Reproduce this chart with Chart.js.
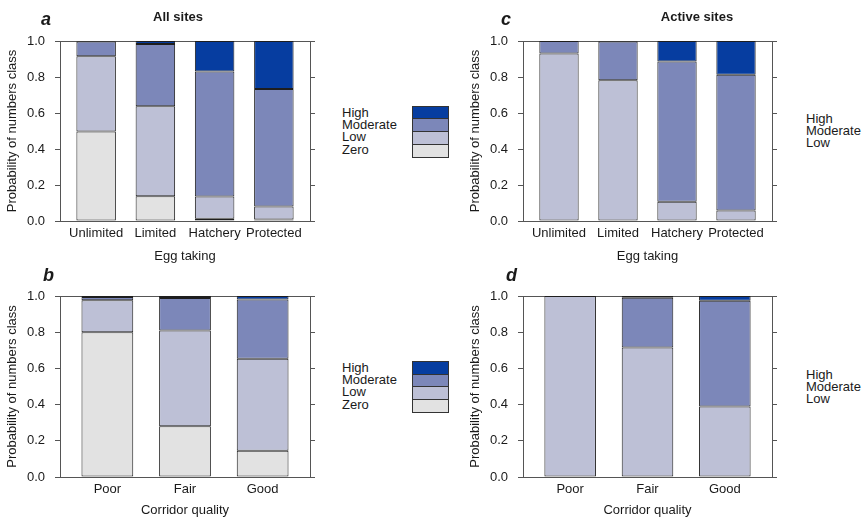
<!DOCTYPE html>
<html>
<head>
<meta charset="utf-8">
<script src="https://cdn.jsdelivr.net/npm/chart.js@4.4.1/dist/chart.umd.min.js"></script>
<style>
body{margin:0;background:#fff;font-family:"Liberation Sans",Arial,sans-serif;color:#1a1a1a;}
#wrap{position:relative;width:862px;height:520px;overflow:hidden;}
canvas{position:absolute;}
.lab{position:absolute;font-size:18px;line-height:18px;font-weight:bold;font-style:italic;}
.ttl{position:absolute;width:200px;text-align:center;font-size:13px;line-height:13px;font-weight:bold;}
.leg{position:absolute;font-size:13px;line-height:12.2px;}
.sw{position:absolute;width:37px;height:13.75px;box-sizing:border-box;border:1px solid #333;}
</style>
</head>
<body>
<div id="wrap">
  <canvas id="chart-a" width="330" height="270" style="left:0;top:0"></canvas>
  <canvas id="chart-b" width="330" height="265" style="left:0;top:255px"></canvas>
  <canvas id="chart-c" width="330" height="270" style="left:463px;top:0"></canvas>
  <canvas id="chart-d" width="330" height="265" style="left:463px;top:255px"></canvas>

  <div class="lab" style="left:41px;top:9.8px">a</div>
  <div class="lab" style="left:43px;top:265.5px">b</div>
  <div class="lab" style="left:501px;top:10.3px">c</div>
  <div class="lab" style="left:506px;top:265.5px">d</div>
  <div class="ttl" style="left:78px;top:9.7px">All sites</div>
  <div class="ttl" style="left:597px;top:9.7px">Active sites</div>

  <div class="leg" style="left:342px;top:107px">High<br>Moderate<br>Low<br>Zero</div>
  <div class="sw" style="left:412px;top:105.7px;background:#063da0"></div>
  <div class="sw" style="left:412px;top:118.45px;background:#7c87b9"></div>
  <div class="sw" style="left:412px;top:131.2px;background:#bdc0d6"></div>
  <div class="sw" style="left:412px;top:143.95px;background:#e2e2e2"></div>

  <div class="leg" style="left:342px;top:362px">High<br>Moderate<br>Low<br>Zero</div>
  <div class="sw" style="left:412px;top:361px;background:#063da0"></div>
  <div class="sw" style="left:412px;top:373.7px;background:#7c87b9"></div>
  <div class="sw" style="left:412px;top:386.4px;background:#bdc0d6"></div>
  <div class="sw" style="left:412px;top:399.1px;background:#e2e2e2"></div>

  <div class="leg" style="left:806px;top:113px">High<br>Moderate<br>Low</div>
  <div class="leg" style="left:806px;top:368.7px">High<br>Moderate<br>Low</div>
</div>

<script>
// categories
const eggTaking = ["Unlimited", "Limited", "Hatchery", "Protected"];
const corridorQuality = ["Poor", "Fair", "Good"];

// a: all sites, egg taking
const allEggZero = [0.497, 0.137, 0.013, 0.009];
const allEggLow = [0.418, 0.500, 0.123, 0.072];
const allEggModerate = [0.082, 0.346, 0.694, 0.652];
const allEggHigh = [0.003, 0.017, 0.170, 0.267];

// b: all sites, corridor quality
const allCorZero = [0.800, 0.280, 0.145];
const allCorLow = [0.176, 0.530, 0.509];
const allCorModerate = [0.018, 0.179, 0.326];
const allCorHigh = [0.006, 0.011, 0.020];

// c: active sites, egg taking
const actEggLow = [0.930, 0.782, 0.107, 0.059];
const actEggModerate = [0.070, 0.215, 0.779, 0.753];
const actEggHigh = [0.000, 0.003, 0.114, 0.188];

// d: active sites, corridor quality
const actCorLow = [1.000, 0.716, 0.390];
const actCorModerate = [0.000, 0.275, 0.584];
const actCorHigh = [0.000, 0.009, 0.026];

const yTicks = [0, 0.2, 0.4, 0.6, 0.8, 1.0];

const colZero = "#e2e2e2";
const colLow = "#bdc0d6";
const colModerate = "#7c87b9";
const colHigh = "#063da0";
const axisColor = "#555";
const textColor = "#1a1a1a";

Chart.defaults.font.family = '"Liberation Sans", Arial, sans-serif';
Chart.defaults.font.size = 13;
Chart.defaults.color = textColor;

function makePanel(id, cats, series, xTitle, padRight, xHeight, titleBottom) {
  const datasets = series.map(s => ({
    label: s[0],
    data: s[1].map((v, i) => ({x: i, y: v})),
    backgroundColor: s[2],
    borderColor: "#1e1e1e",
    borderWidth: 1,
    borderSkipped: false,
    barPercentage: 2 / 3,
    categoryPercentage: 1
  }));
  const xMin = -0.61;
  const xMax = cats.length - 1 + 0.61;

  return new Chart(document.getElementById(id).getContext("2d"), {
    type: "bar",
    data: {datasets: datasets},
    options: {
      responsive: false,
      animation: false,
      layout: {padding: {top: 41, left: 0, right: padRight, bottom: 0}},
      plugins: {legend: {display: false}, tooltip: {enabled: false}},
      scales: {
        x: {
          type: "linear",
          stacked: true,
          offset: false,
          bounds: "data",
          min: xMin,
          max: xMax,
          afterBuildTicks: s => {
            s.ticks = cats.map((c, i) => ({value: i}));
            s.min = xMin;
            s.max = xMax;
          },
          afterFit: s => { s.height = xHeight; },
          ticks: {callback: v => cats[v], autoSkip: false, maxRotation: 0, padding: 5},
          grid: {offset: false, drawOnChartArea: false, drawTicks: false},
          border: {color: axisColor},
          title: {display: true, text: xTitle, padding: {top: 0, bottom: titleBottom}}
        },
        y: {
          stacked: true,
          position: "left",
          min: 0,
          max: 1,
          afterBuildTicks: s => { s.ticks = yTicks.map(v => ({value: v})); },
          afterFit: s => { s.width = 60; },
          ticks: {callback: v => v.toFixed(1), padding: 10},
          grid: {
            tickLength: 5,
            tickColor: axisColor,
            color: c => (c.tick && c.tick.value === 1 ? axisColor : "rgba(0,0,0,0)")
          },
          border: {color: axisColor},
          title: {display: true, text: "Probability of numbers class", padding: {top: 4.5, bottom: 0}}
        },
        y2: {
          position: "right",
          min: 0,
          max: 1,
          afterBuildTicks: s => { s.ticks = yTicks.map(v => ({value: v})); },
          afterFit: s => { s.width = 6; },
          ticks: {display: false},
          grid: {drawOnChartArea: false, tickLength: 5, tickColor: axisColor},
          border: {color: axisColor}
        }
      }
    }
  });
}

const chartA = makePanel("chart-a", eggTaking, [
  ["Zero", allEggZero, colZero],
  ["Low", allEggLow, colLow],
  ["Moderate", allEggModerate, colModerate],
  ["High", allEggHigh, colHigh]
], "Egg taking", 14, 49, 6.2);

const chartB = makePanel("chart-b", corridorQuality, [
  ["Zero", allCorZero, colZero],
  ["Low", allCorLow, colLow],
  ["Moderate", allCorModerate, colModerate],
  ["High", allCorHigh, colHigh]
], "Corridor quality", 14, 43, 2.2);

const chartC = makePanel("chart-c", eggTaking, [
  ["Low", actEggLow, colLow],
  ["Moderate", actEggModerate, colModerate],
  ["High", actEggHigh, colHigh]
], "Egg taking", 15, 49, 6.2);

const chartD = makePanel("chart-d", corridorQuality, [
  ["Low", actCorLow, colLow],
  ["Moderate", actCorModerate, colModerate],
  ["High", actCorHigh, colHigh]
], "Corridor quality", 15, 43, 2.2);
</script>
</body>
</html>
